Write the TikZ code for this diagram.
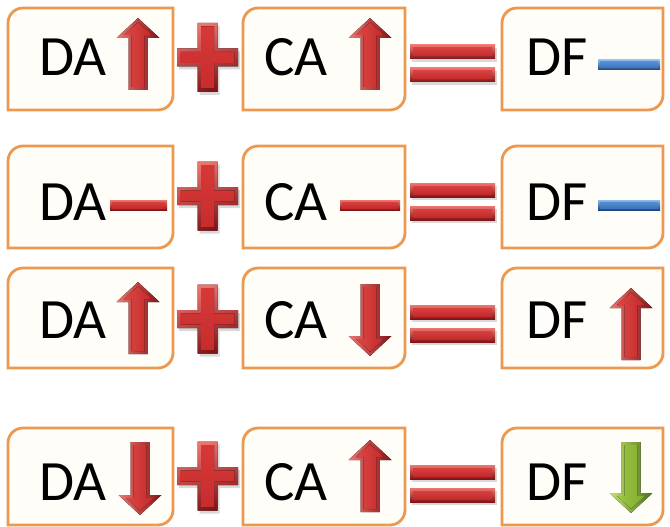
\documentclass[tikz,border=0pt]{standalone}
\usepackage{fontspec}
\setmainfont{Carlito}

\definecolor{frameor}{RGB}{236,152,78}
\definecolor{panelfill}{RGB}{255,253,248}
\definecolor{redlt}{RGB}{238,118,112}
\definecolor{redmd}{RGB}{208,46,46}
\definecolor{reddk}{RGB}{128,20,24}
\definecolor{grnlt}{RGB}{196,226,112}
\definecolor{grnmd}{RGB}{136,182,46}
\definecolor{grndk}{RGB}{74,112,24}
\definecolor{blult}{RGB}{140,186,236}
\definecolor{blumd}{RGB}{66,126,200}
\definecolor{bludk}{RGB}{30,66,130}

\tikzset{
  panel/.style={draw=frameor, line width=2.8pt, fill=panelfill},
  termtext/.style={inner sep=0pt, anchor=base west, font=\fontsize{57}{64}\selectfont},
  softshadow/.style={fill=black, opacity=0.15},
}

% frame with rounded top-left and bottom-right corners: x1, top, x2, bottom
\newcommand\panelbox[4]{%
  \draw[panel] (#1,#4) -- (#1,{#2+15}) .. controls (#1,{#2+6.7}) and ({#1+6.7},#2) .. ({#1+15},#2)
    -- (#3,#2) -- (#3,{#4-15}) .. controls (#3,{#4-6.7}) and ({#3-6.7},#4) .. ({#3-15},#4) -- cycle;}

% bevelled arrow pointing up: centre x, top, bottom, colour prefix
\newcommand\uparr[4]{%
  \fill[left color=#4lt, right color=#4dk] (#1,#2) -- ({#1+21.5},{#2+20}) -- ({#1+9.5},{#2+20})
    -- ({#1+9.5},#3) -- ({#1-9.5},#3) -- ({#1-9.5},{#2+20}) -- ({#1-21.5},{#2+20}) -- cycle;
  \fill[left color=#4md!65!#4lt, right color=#4md!85!#4dk] (#1,{#2+4.2}) -- ({#1+13.8},{#2+17})
    -- ({#1+6.5},{#2+17}) -- ({#1+6.5},{#3-3}) -- ({#1-6.5},{#3-3}) -- ({#1-6.5},{#2+17})
    -- ({#1-13.8},{#2+17}) -- cycle;}

% bevelled arrow pointing down: centre x, top, bottom, colour prefix
\newcommand\dnarr[4]{%
  \fill[left color=#4lt, right color=#4dk] (#1,#3) -- ({#1+21.5},{#3-20}) -- ({#1+9.5},{#3-20})
    -- ({#1+9.5},#2) -- ({#1-9.5},#2) -- ({#1-9.5},{#3-20}) -- ({#1-21.5},{#3-20}) -- cycle;
  \fill[left color=#4md!65!#4lt, right color=#4md!85!#4dk] (#1,{#3-4.2}) -- ({#1+13.8},{#3-17})
    -- ({#1+6.5},{#3-17}) -- ({#1+6.5},{#2+3}) -- ({#1-6.5},{#2+3}) -- ({#1-6.5},{#3-17})
    -- ({#1-13.8},{#3-17}) -- cycle;}

% bevelled plus sign: centre x, centre y
\newcommand\plussign[2]{%
  \fill[softshadow] ({#1-10+2},{#2-34.5+3}) -- ({#1+10+2},{#2-34.5+3}) -- ({#1+10+2},{#2-9+3})
    -- ({#1+30.5+2},{#2-9+3}) -- ({#1+30.5+2},{#2+9+3}) -- ({#1+10+2},{#2+9+3})
    -- ({#1+10+2},{#2+34.5+3}) -- ({#1-10+2},{#2+34.5+3}) -- ({#1-10+2},{#2+9+3})
    -- ({#1-30.5+2},{#2+9+3}) -- ({#1-30.5+2},{#2-9+3}) -- ({#1-10+2},{#2-9+3}) -- cycle;
  \fill[top color=redlt, bottom color=reddk, shading angle=20] ({#1-10},{#2-34.5}) -- ({#1+10},{#2-34.5}) -- ({#1+10},{#2-9})
    -- ({#1+30.5},{#2-9}) -- ({#1+30.5},{#2+9}) -- ({#1+10},{#2+9})
    -- ({#1+10},{#2+34.5}) -- ({#1-10},{#2+34.5}) -- ({#1-10},{#2+9})
    -- ({#1-30.5},{#2+9}) -- ({#1-30.5},{#2-9}) -- ({#1-10},{#2-9}) -- cycle;
  \fill[top color=redmd!85!redlt, bottom color=redmd!90!reddk] ({#1-6.5},{#2-31}) -- ({#1+6.5},{#2-31}) -- ({#1+6.5},{#2-5.5})
    -- ({#1+27},{#2-5.5}) -- ({#1+27},{#2+5.5}) -- ({#1+6.5},{#2+5.5})
    -- ({#1+6.5},{#2+31}) -- ({#1-6.5},{#2+31}) -- ({#1-6.5},{#2+5.5})
    -- ({#1-27},{#2+5.5}) -- ({#1-27},{#2-5.5}) -- ({#1-6.5},{#2-5.5}) -- cycle;}

% one bevelled bar: x1, x2, top, bottom, colour prefix, inset
\newcommand\bevelbar[6]{%
  \fill[top color=#5lt, bottom color=#5dk] (#1,#3) rectangle (#2,#4);
  \fill[top color=#5md!75!#5lt, bottom color=#5md!85!#5dk] ({#1+#6},{#3+#6}) rectangle ({#2-#6},{#4-#6});}

% equals sign: x1, x2, top
\newcommand\equalsign[3]{%
  \fill[softshadow] ({#1+2},{#3+3}) rectangle ({#2+2},{#3+14+3});
  \fill[softshadow] ({#1+2},{#3+23+3}) rectangle ({#2+2},{#3+37+3});
  \bevelbar{#1}{#2}{#3}{#3+14}{red}{3}
  \bevelbar{#1}{#2}{#3+23}{#3+37}{red}{3}}

\begin{document}
\begin{tikzpicture}[x=1pt, y=-1pt]
  \useasboundingbox[fill=white] (0,0) rectangle (670,527);

  % ---------- row 1: DA up + CA up = DF level ----------
  \panelbox{8}{8}{173}{110}
  \panelbox{243}{8}{405}{110}
  \panelbox{502}{8}{663}{110}
  \node[termtext] (da1) at (39,76) {DA};
  \node[termtext] (ca1) at (264,76) {CA};
  \node[termtext] (df1) at (526,76) {DF};
  \uparr{138}{18}{90}{red}
  \uparr{370}{18}{90}{red}
  \bevelbar{598}{660}{60}{70}{blu}{2}
  \plussign{207.5}{57.5}
  \equalsign{410}{495}{45}

  % ---------- row 2: DA level + CA level = DF level ----------
  \panelbox{8}{146}{173}{248}
  \panelbox{243}{146}{405}{248}
  \panelbox{502}{146}{663}{248}
  \node[termtext] (da2) at (39,220) {DA};
  \node[termtext] (ca2) at (264,220) {CA};
  \node[termtext] (df2) at (526,220) {DF};
  \bevelbar{110}{167}{200}{210}{red}{2}
  \bevelbar{340}{400}{200}{210}{red}{2}
  \bevelbar{598}{660}{200}{210}{blu}{2}
  \plussign{207.5}{196}
  \equalsign{410}{495}{183}

  % ---------- row 3: DA up + CA down = DF up ----------
  \panelbox{8}{268}{173}{368}
  \panelbox{243}{268}{405}{368}
  \panelbox{502}{268}{663}{368}
  \node[termtext] (da3) at (39,338) {DA};
  \node[termtext] (ca3) at (264,338) {CA};
  \node[termtext] (df3) at (526,338) {DF};
  \uparr{138}{282}{354}{red}
  \dnarr{370}{284}{356}{red}
  \uparr{631}{288}{360}{red}
  \plussign{207.5}{319}
  \equalsign{410}{495}{305}

  % ---------- row 4: DA down + CA up = DF down ----------
  \panelbox{8}{428}{173}{525}
  \panelbox{243}{428}{405}{525}
  \panelbox{502}{428}{663}{525}
  \node[termtext] (da4) at (39,500) {DA};
  \node[termtext] (ca4) at (264,500) {CA};
  \node[termtext] (df4) at (526,500) {DF};
  \dnarr{140}{442}{515}{red}
  \uparr{370}{440}{512}{red}
  \dnarr{631}{442}{513}{grn}
  \plussign{207.5}{476}
  \equalsign{410}{495}{465}
\end{tikzpicture}
\end{document}
